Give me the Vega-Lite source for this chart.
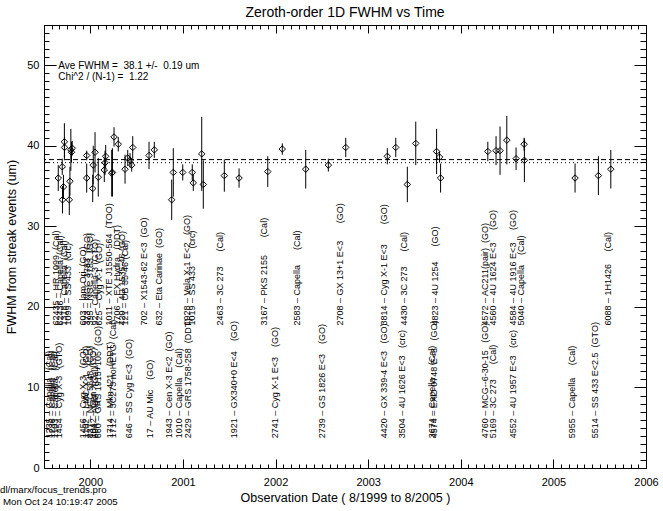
{
  "$schema": "https://vega.github.io/schema/vega-lite/v6.json",
  "autosize": {"type": "none"},
  "padding": {"left": 44, "top": 25, "right": 17, "bottom": 43},
  "width": 602,
  "height": 443,
  "background": "white",
  "title": {"text": "Zeroth-order 1D FWHM vs Time", "fontSize": 14, "fontWeight": "normal", "font": "Liberation Sans", "color": "black", "offset": -1, "frame": "group", "anchor": "middle"},
  "config": {
    "font": "Liberation Sans",
    "view": {"stroke": null},
    "axis": {"domainColor": "black", "tickColor": "black", "labelColor": "black", "titleColor": "black", "grid": false, "labelOverlap": false, "labelFlush": false, "labelBound": false, "titleFontWeight": "normal", "labelFont": "Liberation Sans", "titleFont": "Liberation Sans"}
  },
  "datasets": {
    "pts": [
      {"t": 1999.654, "v": 36.0, "lo": 34.4, "hi": 37.6},
      {"t": 1999.697, "v": 37.4, "lo": 36.4, "hi": 38.4},
      {"t": 1999.700, "v": 33.3, "lo": 31.6, "hi": 35.0},
      {"t": 1999.710, "v": 34.9, "lo": 33.4, "hi": 36.4},
      {"t": 1999.720, "v": 40.5, "lo": 38.2, "hi": 42.8},
      {"t": 1999.722, "v": 39.8, "lo": 38.5, "hi": 41.1},
      {"t": 1999.773, "v": 33.3, "lo": 31.4, "hi": 35.2},
      {"t": 1999.780, "v": 35.6, "lo": 33.8, "hi": 37.4},
      {"t": 1999.790, "v": 39.5, "lo": 36.9, "hi": 42.1},
      {"t": 1999.797, "v": 39.2, "lo": 37.9, "hi": 40.5},
      {"t": 1999.805, "v": 39.7, "lo": 38.8, "hi": 40.6},
      {"t": 1999.961, "v": 36.0, "lo": 34.2, "hi": 37.8},
      {"t": 1999.961, "v": 38.8, "lo": 38.2, "hi": 39.4},
      {"t": 2000.026, "v": 34.7, "lo": 33.0, "hi": 36.4},
      {"t": 2000.032, "v": 37.6, "lo": 35.2, "hi": 40.0},
      {"t": 2000.051, "v": 39.2, "lo": 36.7, "hi": 41.7},
      {"t": 2000.086, "v": 36.1, "lo": 33.7, "hi": 38.5},
      {"t": 2000.151, "v": 37.0, "lo": 35.5, "hi": 38.5},
      {"t": 2000.159, "v": 37.9, "lo": 36.4, "hi": 39.4},
      {"t": 2000.166, "v": 38.7, "lo": 37.3, "hi": 40.1},
      {"t": 2000.231, "v": 36.6, "lo": 33.7, "hi": 39.5},
      {"t": 2000.239, "v": 36.7, "lo": 33.7, "hi": 39.7},
      {"t": 2000.256, "v": 41.1, "lo": 39.9, "hi": 42.3},
      {"t": 2000.302, "v": 40.2, "lo": 39.3, "hi": 41.1},
      {"t": 2000.375, "v": 37.1, "lo": 35.3, "hi": 38.9},
      {"t": 2000.404, "v": 38.5, "lo": 37.5, "hi": 39.5},
      {"t": 2000.429, "v": 38.2, "lo": 37.3, "hi": 39.1},
      {"t": 2000.447, "v": 37.6, "lo": 36.8, "hi": 38.4},
      {"t": 2000.458, "v": 39.8, "lo": 38.4, "hi": 41.2},
      {"t": 2000.634, "v": 38.8, "lo": 37.1, "hi": 40.5},
      {"t": 2000.691, "v": 39.5, "lo": 38.5, "hi": 40.5},
      {"t": 2000.879, "v": 33.3, "lo": 30.8, "hi": 35.8},
      {"t": 2000.896, "v": 36.7, "lo": 33.7, "hi": 39.7},
      {"t": 2000.998, "v": 36.7, "lo": 35.7, "hi": 37.7},
      {"t": 2001.101, "v": 36.7, "lo": 35.7, "hi": 37.7},
      {"t": 2001.112, "v": 35.4, "lo": 34.4, "hi": 36.4},
      {"t": 2001.203, "v": 39.0, "lo": 34.4, "hi": 43.6},
      {"t": 2001.220, "v": 35.2, "lo": 32.2, "hi": 38.2},
      {"t": 2001.447, "v": 36.3, "lo": 34.3, "hi": 38.3},
      {"t": 2001.606, "v": 36.0, "lo": 34.8, "hi": 37.2},
      {"t": 2001.916, "v": 36.8, "lo": 34.9, "hi": 38.7},
      {"t": 2002.073, "v": 39.6, "lo": 38.9, "hi": 40.3},
      {"t": 2002.326, "v": 37.1, "lo": 34.7, "hi": 39.5},
      {"t": 2002.570, "v": 37.6, "lo": 36.8, "hi": 38.4},
      {"t": 2002.758, "v": 39.8, "lo": 38.6, "hi": 41.0},
      {"t": 2003.207, "v": 38.7, "lo": 37.7, "hi": 39.7},
      {"t": 2003.298, "v": 39.8, "lo": 38.6, "hi": 41.0},
      {"t": 2003.423, "v": 35.2, "lo": 33.0, "hi": 37.4},
      {"t": 2003.514, "v": 40.3, "lo": 37.6, "hi": 43.0},
      {"t": 2003.739, "v": 39.3, "lo": 36.5, "hi": 42.1},
      {"t": 2003.771, "v": 38.6, "lo": 37.9, "hi": 39.3},
      {"t": 2003.782, "v": 36.0, "lo": 34.2, "hi": 37.8},
      {"t": 2004.292, "v": 39.3, "lo": 38.1, "hi": 40.5},
      {"t": 2004.381, "v": 39.4, "lo": 37.6, "hi": 41.2},
      {"t": 2004.424, "v": 39.4, "lo": 36.4, "hi": 42.4},
      {"t": 2004.497, "v": 40.7, "lo": 37.7, "hi": 43.7},
      {"t": 2004.597, "v": 38.4, "lo": 37.0, "hi": 39.8},
      {"t": 2004.684, "v": 40.2, "lo": 39.4, "hi": 41.0},
      {"t": 2004.687, "v": 38.2, "lo": 35.5, "hi": 40.9},
      {"t": 2005.234, "v": 36.0, "lo": 34.2, "hi": 37.8},
      {"t": 2005.486, "v": 36.3, "lo": 33.9, "hi": 38.7},
      {"t": 2005.620, "v": 37.1, "lo": 34.7, "hi": 39.5}
    ],
    "labels": [
      {"t": 1999.583, "row": "low", "text": "1235 – Capella \u00a0\u00a0(Cal)"},
      {"t": 1999.619, "row": "low", "text": "1236 – Capella \u00a0\u00a0(Cal)"},
      {"t": 1999.654, "row": "low", "text": "1103 – Capella \u00a0\u00a0(Cal)"},
      {"t": 1999.691, "row": "low", "text": "1454 – Cyg X-3 \u00a0\u00a0(GTO)"},
      {"t": 1999.954, "row": "low", "text": "1456 – Cyg X-3 \u00a0\u00a0(GO)"},
      {"t": 1999.989, "row": "low", "text": "1102 – LMC X-1 \u00a0\u00a0(GO)"},
      {"t": 2000.026, "row": "low", "text": "\u00a0\u00a0837 – NGC 5548 \u00a0(GO)"},
      {"t": 2000.061, "row": "low", "text": "1042 – Cen X-3 \u00a0\u00a0(GO)"},
      {"t": 2000.086, "row": "low", "text": "\u00a0\u00a0604 – Algol \u00a0\u00a0(Cal)"},
      {"t": 2000.116, "row": "low", "text": "\u00a0\u00a0660 – GRS 1915+105 \u00a0(GO)"},
      {"t": 2000.248, "row": "low", "text": "1714 – Mkn 421 \u00a0\u00a0(DDT)"},
      {"t": 2000.278, "row": "low", "text": "1712 – 3C273 noHETG \u00a0(Cal)"},
      {"t": 2000.447, "row": "low", "text": "\u00a0\u00a0646 – SS Cyg E<3 \u00a0(GO)"},
      {"t": 2000.674, "row": "low", "text": "\u00a0\u00a0\u00a0\u00a017 – AU Mic \u00a0\u00a0\u00a0(GO)"},
      {"t": 2000.885, "row": "low", "text": "1943 – Cen X-3 E<2 \u00a0(GO)"},
      {"t": 2000.987, "row": "low", "text": "1010 – Capella \u00a0\u00a0\u00a0(Cal)"},
      {"t": 2001.084, "row": "low", "text": "2429 – GRS 1758-258 \u00a0(DDT)"},
      {"t": 2001.581, "row": "low", "text": "1921 – GX340+0 E<4 \u00a0\u00a0\u00a0(GO)"},
      {"t": 2002.030, "row": "low", "text": "2741 – Cyg X-1 E<3 \u00a0\u00a0\u00a0(GO)"},
      {"t": 2002.535, "row": "low", "text": "2739 – GS 1826 E<3 \u00a0\u00a0\u00a0(GO)"},
      {"t": 2003.200, "row": "low", "text": "4420 – GX 339-4 E<3 \u00a0\u00a0(GO)"},
      {"t": 2003.398, "row": "low", "text": "3504 – 4U 1626 E<3 \u00a0\u00a0(crc)"},
      {"t": 2003.722, "row": "low", "text": "3674 – Capella \u00a0\u00a0\u00a0\u00a0(Cal)"},
      {"t": 2003.740, "row": "low", "text": "4574 – EXO 0748 E<3 \u00a0\u00a0(GO)"},
      {"t": 2004.292, "row": "low", "text": "4760 – MCG--6-30-15 \u00a0\u00a0(GO)"},
      {"t": 2004.381, "row": "low", "text": "5169 – 3C 273 \u00a0\u00a0\u00a0\u00a0\u00a0(Cal)"},
      {"t": 2004.597, "row": "low", "text": "4552 – 4U 1957 E<3 \u00a0\u00a0(crc)"},
      {"t": 2005.234, "row": "low", "text": "5955 – Capella \u00a0\u00a0\u00a0\u00a0(Cal)"},
      {"t": 2005.486, "row": "low", "text": "5514 – SS 433 E<2.5 \u00a0(GTO)"},
      {"t": 1999.662, "row": "high", "text": "62435 – HR 1099 \u00a0(Cal)"},
      {"t": 1999.705, "row": "high", "text": "62436 – Capella \u00a0(Cal)"},
      {"t": 1999.748, "row": "high", "text": "1318 – Capella \u00a0(Cal)"},
      {"t": 1999.792, "row": "high", "text": "1099 – SS 433 \u00a0(crc)"},
      {"t": 1999.954, "row": "high", "text": "\u00a0\u00a0603 – lam Ori \u00a0(GO)"},
      {"t": 1999.997, "row": "high", "text": "\u00a0\u00a0373 – NGC 3783 \u00a0(GO)"},
      {"t": 2000.032, "row": "high", "text": "\u00a0\u00a0395 – NGC 3783 \u00a0(GO)"},
      {"t": 2000.086, "row": "high", "text": "\u00a0\u00a0\u00a0\u00a092 – Capella-3 (GTO)"},
      {"t": 2000.123, "row": "high", "text": "\u00a0\u00a0625 – Cyg X-1 \u00a0(GO)"},
      {"t": 2000.231, "row": "high", "text": "1011 – XTE J1550-564 \u00a0(TOO)"},
      {"t": 2000.321, "row": "high", "text": "1706 – EX Hydra \u00a0\u00a0(DDT)"},
      {"t": 2000.375, "row": "high", "text": "\u00a0\u00a0420 – 4U 1535-46 (GO)"},
      {"t": 2000.404, "row": "high", "text": "\u00a0\u00a0121 – OB 35-46 (Cal)"},
      {"t": 2000.609, "row": "high", "text": "\u00a0\u00a0702 – X1543-62 E<3 \u00a0(GO)"},
      {"t": 2000.777, "row": "high", "text": "\u00a0\u00a0632 – Eta Carinae \u00a0(GO)"},
      {"t": 2001.077, "row": "high", "text": "1928 – Vela X-1 E<2 \u00a0\u00a0(GO)"},
      {"t": 2001.131, "row": "high", "text": "1019 – SS 433 \u00a0\u00a0\u00a0\u00a0\u00a0\u00a0(crc)"},
      {"t": 2001.430, "row": "high", "text": "2463 – 3C 273 \u00a0\u00a0\u00a0\u00a0\u00a0(Cal)"},
      {"t": 2001.905, "row": "high", "text": "3167 – PKS 2155 \u00a0\u00a0\u00a0\u00a0\u00a0\u00a0(Cal)"},
      {"t": 2002.265, "row": "high", "text": "2583 – Capella \u00a0\u00a0\u00a0\u00a0\u00a0(Cal)"},
      {"t": 2002.732, "row": "high", "text": "2708 – GX 13+1 E<3 \u00a0\u00a0\u00a0\u00a0\u00a0\u00a0(GO)"},
      {"t": 2003.200, "row": "high", "text": "3814 – Cyg X-1 E<3 \u00a0\u00a0\u00a0\u00a0\u00a0\u00a0\u00a0(GO)"},
      {"t": 2003.416, "row": "high", "text": "4430 – 3C 273 \u00a0\u00a0\u00a0\u00a0\u00a0(Cal)"},
      {"t": 2003.758, "row": "high", "text": "4823 – 4U 1254 \u00a0\u00a0\u00a0\u00a0\u00a0(GO)"},
      {"t": 2004.292, "row": "high", "text": "4572 – AC211(pair) \u00a0(GO)"},
      {"t": 2004.381, "row": "high", "text": "4560 – 4U 1624 E<3 \u00a0\u00a0\u00a0\u00a0(GO)"},
      {"t": 2004.597, "row": "high", "text": "4584 – 4U 1916 E<3 \u00a0\u00a0\u00a0\u00a0(GO)"},
      {"t": 2004.687, "row": "high", "text": "5040 – Capella \u00a0\u00a0\u00a0(Cal)"},
      {"t": 2005.620, "row": "high", "text": "6088 – 1H1426 \u00a0\u00a0\u00a0\u00a0(Cal)"}
    ]
  },
  "layer": [
    {
      "data": {"name": "pts"},
      "mark": {"type": "rule", "color": "black", "strokeWidth": 1},
      "encoding": {
        "x": {"field": "t", "type": "quantitative", "scale": {"domain": [1999.5, 2006], "nice": false, "zero": false},
          "axis": {"orient": "bottom", "title": "Observation Date ( 8/1999 to 8/2005 )", "titleFontSize": 12.5, "titlePadding": -1, "labelFontSize": 11, "labelPadding": 17,
            "values": [1999.5,1999.5833,1999.6667,1999.75,1999.8333,1999.9167,2000,2000.0833,2000.1667,2000.25,2000.3333,2000.4167,2000.5,2000.5833,2000.6667,2000.75,2000.8333,2000.9167,2001,2001.0833,2001.1667,2001.25,2001.3333,2001.4167,2001.5,2001.5833,2001.6667,2001.75,2001.8333,2001.9167,2002,2002.0833,2002.1667,2002.25,2002.3333,2002.4167,2002.5,2002.5833,2002.6667,2002.75,2002.8333,2002.9167,2003,2003.0833,2003.1667,2003.25,2003.3333,2003.4167,2003.5,2003.5833,2003.6667,2003.75,2003.8333,2003.9167,2004,2004.0833,2004.1667,2004.25,2004.3333,2004.4167,2004.5,2004.5833,2004.6667,2004.75,2004.8333,2004.9167,2005,2005.0833,2005.1667,2005.25,2005.3333,2005.4167,2005.5,2005.5833,2005.6667,2005.75,2005.8333,2005.9167,2006],
            "labelExpr": "abs(datum.value - round(datum.value)) < 0.001 ? '' + round(datum.value) : ''",
            "tickSize": {"condition": {"test": "abs(datum.value - round(datum.value)) < 0.001", "value": -9}, "value": -4}}},
        "y": {"field": "lo", "type": "quantitative", "scale": {"domain": [0, 55], "nice": false, "zero": false},
          "axis": {"orient": "left", "title": "FWHM from streak events (um)", "titleFontSize": 12.5, "titlePadding": 8, "labelFontSize": 11, "labelPadding": 17,
            "values": [0,1,2,3,4,5,6,7,8,9,10,11,12,13,14,15,16,17,18,19,20,21,22,23,24,25,26,27,28,29,30,31,32,33,34,35,36,37,38,39,40,41,42,43,44,45,46,47,48,49,50,51,52,53,54,55],
            "labelExpr": "datum.value % 10 === 0 ? '' + datum.value : ''",
            "tickSize": {"condition": {"test": "datum.value % 10 === 0", "value": -12}, "value": -5}}},
        "y2": {"field": "hi"}
      }
    },
    {
      "data": {"name": "pts"},
      "mark": {"type": "point", "shape": "diamond", "filled": false, "color": "black", "size": 42, "strokeWidth": 1, "opacity": 1},
      "encoding": {
        "x": {"field": "t", "type": "quantitative", "scale": {"domain": [1999.5, 2006], "nice": false, "zero": false},
          "axis": {"orient": "top", "title": null, "labels": false,
            "values": [1999.5,1999.5833,1999.6667,1999.75,1999.8333,1999.9167,2000,2000.0833,2000.1667,2000.25,2000.3333,2000.4167,2000.5,2000.5833,2000.6667,2000.75,2000.8333,2000.9167,2001,2001.0833,2001.1667,2001.25,2001.3333,2001.4167,2001.5,2001.5833,2001.6667,2001.75,2001.8333,2001.9167,2002,2002.0833,2002.1667,2002.25,2002.3333,2002.4167,2002.5,2002.5833,2002.6667,2002.75,2002.8333,2002.9167,2003,2003.0833,2003.1667,2003.25,2003.3333,2003.4167,2003.5,2003.5833,2003.6667,2003.75,2003.8333,2003.9167,2004,2004.0833,2004.1667,2004.25,2004.3333,2004.4167,2004.5,2004.5833,2004.6667,2004.75,2004.8333,2004.9167,2005,2005.0833,2005.1667,2005.25,2005.3333,2005.4167,2005.5,2005.5833,2005.6667,2005.75,2005.8333,2005.9167,2006],
            "tickSize": {"condition": {"test": "abs(datum.value - round(datum.value)) < 0.001", "value": -8}, "value": -4}}},
        "y": {"field": "v", "type": "quantitative", "scale": {"domain": [0, 55], "nice": false, "zero": false},
          "axis": {"orient": "right", "title": null, "labels": false,
            "values": [0,1,2,3,4,5,6,7,8,9,10,11,12,13,14,15,16,17,18,19,20,21,22,23,24,25,26,27,28,29,30,31,32,33,34,35,36,37,38,39,40,41,42,43,44,45,46,47,48,49,50,51,52,53,54,55],
            "tickSize": {"condition": {"test": "datum.value % 10 === 0", "value": -12}, "value": -6}}}
      }
    },
    {
      "data": {"values": [{"m": 38.29}]},
      "mark": {"type": "rule", "color": "black", "strokeWidth": 1, "strokeDash": [5, 3]},
      "encoding": {"y": {"field": "m", "type": "quantitative", "scale": {"domain": [0, 55], "nice": false, "zero": false}, "axis": null}}
    },
    {
      "data": {"values": [{"m": 37.91}]},
      "mark": {"type": "rule", "color": "black", "strokeWidth": 1, "strokeDash": [1, 3]},
      "encoding": {"y": {"field": "m", "type": "quantitative", "scale": {"domain": [0, 55], "nice": false, "zero": false}, "axis": null}}
    },
    {
      "data": {"name": "labels"},
      "transform": [{"filter": "datum.row === 'low'"}],
      "mark": {"type": "text", "angle": 270, "align": "left", "baseline": "alphabetic", "fontSize": 9, "color": "black", "font": "Liberation Sans"},
      "encoding": {
        "x": {"field": "t", "type": "quantitative", "scale": {"domain": [1999.5, 2006], "nice": false, "zero": false}, "axis": null},
        "y": {"datum": 3.7, "type": "quantitative", "scale": {"domain": [0, 55], "nice": false, "zero": false}, "axis": null},
        "text": {"field": "text"}
      }
    },
    {
      "data": {"name": "labels"},
      "transform": [{"filter": "datum.row === 'high'"}],
      "mark": {"type": "text", "angle": 270, "align": "left", "baseline": "alphabetic", "fontSize": 9, "color": "black", "font": "Liberation Sans"},
      "encoding": {
        "x": {"field": "t", "type": "quantitative", "scale": {"domain": [1999.5, 2006], "nice": false, "zero": false}, "axis": null},
        "y": {"datum": 17.7, "type": "quantitative", "scale": {"domain": [0, 55], "nice": false, "zero": false}, "axis": null},
        "text": {"field": "text"}
      }
    },
    {
      "data": {"values": [
        {"x": 1999.655, "y": 49.9, "s": "Ave FWHM = \u00a038.1 +/- \u00a00.19 um"},
        {"x": 1999.655, "y": 48.5, "s": "Chi^2 / (N-1) = \u00a01.22"}
      ]},
      "mark": {"type": "text", "align": "left", "baseline": "middle", "fontSize": 10, "color": "black", "font": "Liberation Sans"},
      "encoding": {
        "x": {"field": "x", "type": "quantitative", "scale": {"domain": [1999.5, 2006], "nice": false, "zero": false}, "axis": null},
        "y": {"field": "y", "type": "quantitative", "scale": {"domain": [0, 55], "nice": false, "zero": false}, "axis": null},
        "text": {"field": "s"}
      }
    },
    {
      "data": {"values": [
        {"x": 1999.025, "y": -2.73, "s": "dl/marx/focus_trends.pro"},
        {"x": 1999.057, "y": -4.22, "s": "Mon Oct 24 10:19:47 2005"}
      ]},
      "mark": {"type": "text", "align": "left", "baseline": "middle", "fontSize": 9.7, "color": "black", "font": "Liberation Sans"},
      "encoding": {
        "x": {"field": "x", "type": "quantitative", "scale": {"domain": [1999.5, 2006], "nice": false, "zero": false}, "axis": null},
        "y": {"field": "y", "type": "quantitative", "scale": {"domain": [0, 55], "nice": false, "zero": false}, "axis": null},
        "text": {"field": "s"}
      }
    }
  ],
  "resolve": {"axis": {"x": "independent", "y": "independent"}}
}
